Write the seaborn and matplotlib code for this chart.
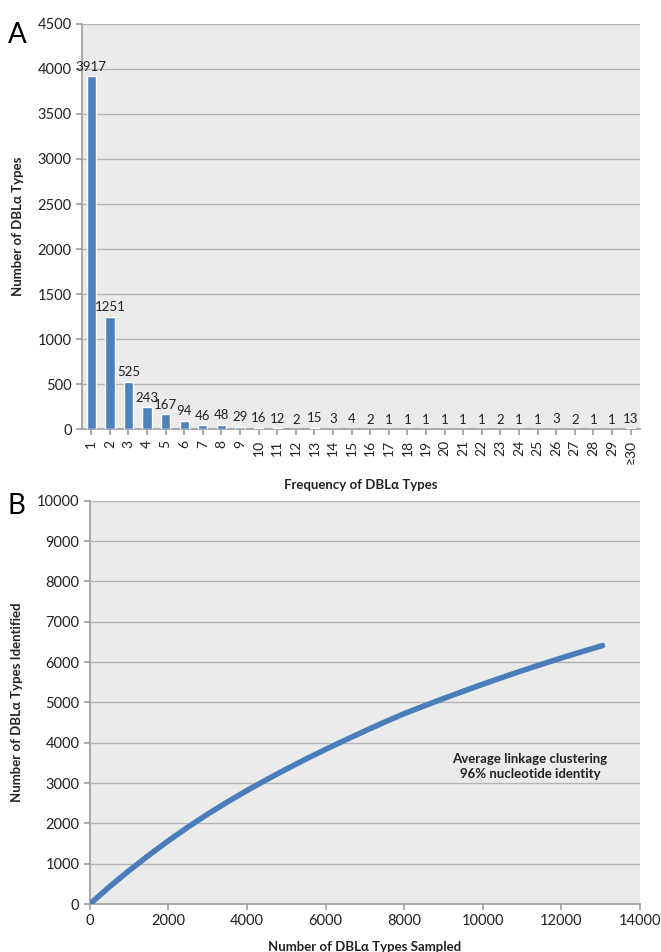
import matplotlib
matplotlib.use("Agg")
import matplotlib.pyplot as plt
import seaborn as sns
import pandas as pd

# ---- data ----
freq_labels = [str(i) for i in range(1, 30)] + ["≥30"]
freq_counts = [3917, 1251, 525, 243, 167, 94, 46, 48, 29, 16, 12, 2, 15, 3, 4,
               2, 1, 1, 1, 1, 1, 1, 2, 1, 1, 3, 2, 1, 1, 13]

sampled = [0, 500, 1000, 1500, 2000, 2500, 3000, 3500, 4000, 4500, 5000,
           5500, 6000, 6500, 7000, 7500, 8000, 8500, 9000, 9500, 10000,
           10500, 11000, 11500, 12000, 12500, 13050]
identified = [0, 430, 830, 1210, 1570, 1910, 2230, 2530, 2815, 3085, 3345,
              3595, 3835, 4065, 4290, 4510, 4720, 4910, 5095, 5275, 5450,
              5620, 5785, 5945, 6100, 6250, 6410]

sns.set_theme(style="white")
plt.rcParams['font.family'] = ['Lato', 'DejaVu Sans']

BG = "#ebebeb"
GRID = "#b4b4b4"
BLUE = "#4f81bd"
LINE = "#4a7ebb"
TXT = "#222222"

fig = plt.figure(figsize=(6.61, 9.52), dpi=100)

# ---- Panel A ----
axA = fig.add_axes([0.124, 0.549, 0.844, 0.426])
dfA = pd.DataFrame({"freq": freq_labels, "count": freq_counts})
sns.barplot(data=dfA, x="freq", y="count", ax=axA, color=BLUE, width=0.5,
            saturation=1, zorder=3)
axA.set_facecolor(BG)
axA.set_ylim(0, 4500)
axA.set_yticks(range(0, 4501, 500))
axA.yaxis.grid(True, color=GRID, linewidth=1, zorder=0)
axA.set_axisbelow(True)
for s in ["top", "right"]:
    axA.spines[s].set_visible(False)
axA.spines["left"].set_color("#a0a0a0")
axA.spines["bottom"].set_color("#a0a0a0")
axA.tick_params(axis="x", rotation=90, labelsize=10, colors=TXT, length=4,
                color="#a0a0a0", bottom=True, direction="out")
axA.tick_params(axis="y", labelsize=10.5, colors=TXT, length=4,
                color="#a0a0a0", left=True, direction="out")
for i, v in enumerate(freq_counts):
    axA.text(i, v + 40, str(v), ha="center", va="bottom", fontsize=9.5,
             color=TXT)
axA.set_xlabel("Frequency of DBLα Types", fontsize=9.5, fontweight="bold",
               color=TXT, labelpad=11)
axA.set_ylabel("Number of DBLα Types", fontsize=9.5, fontweight="bold",
               color=TXT, labelpad=10)
fig.text(0.012, 0.963, "A", fontsize=20, color="black", va="center")

# ---- Panel B ----
axB = fig.add_axes([0.136, 0.0504, 0.832, 0.4236])
dfB = pd.DataFrame({"sampled": sampled, "identified": identified})
sns.lineplot(data=dfB, x="sampled", y="identified", ax=axB, color=LINE,
             linewidth=4, zorder=3)
axB.set_facecolor(BG)
axB.set_xlim(0, 14000)
axB.set_ylim(0, 10000)
axB.set_xticks(range(0, 14001, 2000))
axB.set_yticks(range(0, 10001, 1000))
axB.yaxis.grid(True, color=GRID, linewidth=1, zorder=0)
axB.set_axisbelow(True)
for s in ["top", "right"]:
    axB.spines[s].set_visible(False)
axB.spines["left"].set_color("#a0a0a0")
axB.spines["bottom"].set_color("#a0a0a0")
axB.tick_params(axis="both", labelsize=10.5, colors=TXT, length=4,
                color="#a0a0a0", bottom=True, left=True, direction="out")
axB.set_xlabel("Number of DBLα Types Sampled", fontsize=9.5,
               fontweight="bold", color=TXT, labelpad=9)
axB.set_ylabel("Number of DBLα Types Identified", fontsize=9.5,
               fontweight="bold", color=TXT, labelpad=10)
axB.text(11200, 3400, "Average linkage clustering\n96% nucleotide identity",
         ha="center", va="center", fontsize=9.5, fontweight="bold",
         color=TXT, linespacing=1.3)
fig.text(0.012, 0.468, "B", fontsize=20, color="black", va="center")

fig.savefig("out.png", dpi=100)
